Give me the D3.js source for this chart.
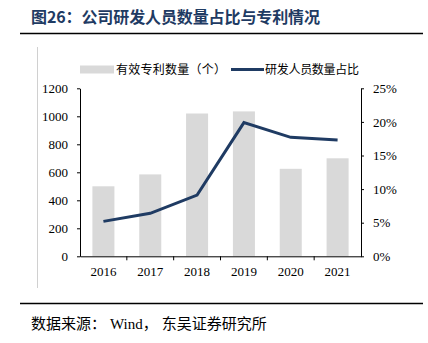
<!DOCTYPE html>
<html><head><meta charset="utf-8">
<script src="https://cdn.jsdelivr.net/npm/d3@7"></script>
<style>
html,body{margin:0;padding:0;background:#fff;}
svg{display:block;}
</style></head>
<body>
<svg id="chart" width="428" height="343"></svg>
<script>
const years = ["2016","2017","2018","2019","2020","2021"];
const patents = [500, 585, 1020, 1035, 625, 700];
const rdShare = [5.2, 6.4, 9.1, 19.9, 17.7, 17.3];
const leftTicks = [0,200,400,600,800,1000,1200];
const rightTicks = [0,5,10,15,20,25];
const titleText = "图26：公司研发人员数量占比与专利情况";
const sourceParts = ["数据来源：", "Wind", "，", "东吴证券研究所"];
const legendBar = "有效专利数量（个）";
const legendLine = "研发人员数量占比";

const svg = d3.select("#chart");
const serif = "'Liberation Serif','Noto Sans CJK SC',serif";
const cjk = "'Noto Sans CJK SC','Liberation Serif',sans-serif";
const navy = "#1f3b63";

// title
svg.append("text").attr("x",31).attr("y",23).attr("fill",navy)
  .attr("font-family",cjk).attr("font-weight","bold").attr("font-size",16)
  .attr("textLength",289).attr("lengthAdjust","spacing")
  .text(titleText);
svg.append("line").attr("x1",20).attr("x2",423).attr("y1",33.5).attr("y2",33.5)
  .attr("stroke","#000").attr("stroke-width",1.5);
// faint vertical frame line
svg.append("line").attr("x1",37.5).attr("x2",37.5).attr("y1",47).attr("y2",288)
  .attr("stroke","#d0d0d0").attr("stroke-width",1);

const x0 = 80, x1 = 361, yTop = 88.3, yBot = 256.3;
const x = d3.scaleBand().domain(years).range([x0,x1]).paddingInner(0.53).paddingOuter(0.265);
const xc = d3.scaleBand().domain(years).range([x0,x1]);
const yL = d3.scaleLinear().domain([0,1200]).range([yBot,yTop]);
const yR = d3.scaleLinear().domain([0,25]).range([yBot,yTop]);

// bars
svg.append("g").selectAll("rect").data(years).join("rect")
  .attr("x",d=>x(d)).attr("width",x.bandwidth())
  .attr("y",(d,i)=>yL(patents[i])).attr("height",(d,i)=>yBot-yL(patents[i]))
  .attr("fill","#d9d9d9");

// line
const line = d3.line().x((d,i)=>xc(years[i])+xc.bandwidth()/2).y(d=>yR(d));
svg.append("path").datum(rdShare).attr("d",line).attr("fill","none")
  .attr("stroke",navy).attr("stroke-width",3).attr("stroke-linejoin","miter");

// axes
const axL = svg.append("g").attr("transform",`translate(${x0},0)`)
  .call(d3.axisLeft(yL).tickValues(leftTicks).tickSize(3).tickPadding(9).tickFormat(d3.format("d")).tickSizeOuter(0));
const axR = svg.append("g").attr("transform",`translate(${x1},0)`)
  .call(d3.axisRight(yR).tickValues(rightTicks).tickSize(3).tickPadding(9).tickFormat(d=>d+"%").tickSizeOuter(0));
const axB = svg.append("g").attr("transform",`translate(0,${yBot})`)
  .call(d3.axisBottom(xc).tickSize(0).tickPadding(10).tickSizeOuter(0));
// x tick marks between categories
svg.append("g").selectAll("line").data(years.slice(1)).join("line")
  .attr("x1",d=>xc(d)).attr("x2",d=>xc(d)).attr("y1",yBot).attr("y2",yBot+4)
  .attr("stroke","#000");
[axL,axR,axB].forEach(a=>{
  a.selectAll("path").attr("stroke","#000");
  a.selectAll("line").attr("stroke","#000");
  a.selectAll("text").attr("font-family",serif).attr("font-size",13).attr("fill","#000");
});

// legend
svg.append("rect").attr("x",80).attr("y",65.5).attr("width",34).attr("height",8).attr("fill","#d9d9d9");
svg.append("text").attr("x",116).attr("y",73.5).attr("font-family",cjk).attr("font-size",12)
  .attr("fill","#000").attr("textLength",110).attr("lengthAdjust","spacing").text(legendBar);
svg.append("line").attr("x1",231).attr("x2",264).attr("y1",69.5).attr("y2",69.5)
  .attr("stroke",navy).attr("stroke-width",3);
svg.append("text").attr("x",265).attr("y",73.5).attr("font-family",cjk).attr("font-size",12)
  .attr("fill","#000").attr("textLength",94).attr("lengthAdjust","spacing").text(legendLine);

// bottom
svg.append("line").attr("x1",20).attr("x2",423).attr("y1",303.5).attr("y2",303.5)
  .attr("stroke","#000").attr("stroke-width",1.5);
const src = svg.append("text").attr("x",31).attr("y",329).attr("font-size",15).attr("fill","#000");
src.selectAll("tspan").data(sourceParts).join("tspan")
  .attr("font-family",(d,i)=>i===1?serif:cjk)
  .attr("dx",(d,i)=>i===1||i===3?4:0)
  .text(d=>d);
</script>
</body></html>
